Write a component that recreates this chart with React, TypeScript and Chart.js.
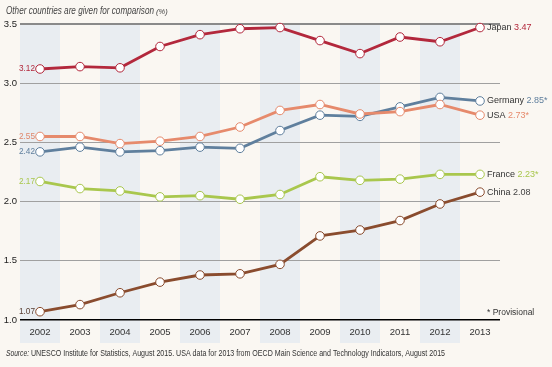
import React, { useEffect, useRef } from "react";
import { Chart, registerables } from "chart.js";

Chart.register(...registerables);

const years = ["2002", "2003", "2004", "2005", "2006", "2007", "2008", "2009", "2010", "2011", "2012", "2013"];
const japan = [3.12, 3.14, 3.13, 3.31, 3.41, 3.46, 3.47, 3.36, 3.25, 3.39, 3.35, 3.47];
const usa = [2.55, 2.55, 2.49, 2.51, 2.55, 2.63, 2.77, 2.82, 2.74, 2.76, 2.82, 2.73];
const germany = [2.42, 2.46, 2.42, 2.43, 2.46, 2.45, 2.6, 2.73, 2.72, 2.8, 2.88, 2.85];
const france = [2.17, 2.11, 2.09, 2.04, 2.05, 2.02, 2.06, 2.21, 2.18, 2.19, 2.23, 2.23];
const china = [1.07, 1.13, 1.23, 1.32, 1.38, 1.39, 1.47, 1.71, 1.76, 1.84, 1.98, 2.08];
const seriesNames = ["Japan", "USA", "Germany", "France", "China"];
const startLabels = ["3.12", "2.55", "2.42", "2.17", "1.07"];
const endLabels = ["3.47", "2.73*", "2.85*", "2.23*", "2.08"];
const yTicks = [1.0, 1.5, 2.0, 2.5, 3.0, 3.5];
const titleText = "Other countries are given for comparison";
const sourceText = "UNESCO Institute for Statistics, August 2015. USA data for 2013 from OECD Main Science and Technology Indicators, August 2015";

const colors = ["#b3283c", "#e68a6c", "#5f7f9d", "#a9c74d", "#8a4c2e"];
const startColors = ["#b3283c", "#e0866a", "#5f7f9d", "#a9c74d", "#5a4035"];
const endColors = ["#b3283c", "#e68a6c", "#5f7f9d", "#a9c74d", "#444444"];
const BG = "#faf7f2";
const BAND = "#e9edf1";
const FONT = "'Liberation Sans', Arial, sans-serif";

export default function App() {
  const ref = useRef<HTMLCanvasElement | null>(null);
  useEffect(() => {
    const canvas = ref.current;
    if (!canvas) return;
    const dataSets = [japan, usa, germany, france, china];

    const bgPlugin = {
      id: "bgBands",
      beforeDraw(chart: any) {
        const { ctx, chartArea, scales } = chart;
        const xs = scales.x;
        ctx.save();
        ctx.fillStyle = BG;
        ctx.fillRect(0, 0, chart.width, chart.height);
        const step = xs.getPixelForValue(1) - xs.getPixelForValue(0);
        ctx.fillStyle = BAND;
        for (let i = 0; i < years.length; i += 2) {
          const cx = xs.getPixelForValue(i);
          ctx.fillRect(cx - step / 2, chartArea.top, step, chartArea.bottom + 23 - chartArea.top);
        }
        ctx.restore();
      },
    };

    const textPlugin = {
      id: "texts",
      afterDatasetsDraw(chart: any) {
        const { ctx, scales } = chart;
        const xs = scales.x;
        const ys = scales.y;
        ctx.save();
        ctx.textBaseline = "middle";
        ctx.font = `9px ${FONT}`;
        ctx.textAlign = "right";
        dataSets.forEach((d, i) => {
          ctx.fillStyle = startColors[i];
          ctx.fillText(startLabels[i], xs.getPixelForValue(0) - 5, ys.getPixelForValue(d[0]), 16);
        });
        ctx.textAlign = "left";
        dataSets.forEach((d, i) => {
          const x = xs.getPixelForValue(years.length - 1) + 7;
          const y = ys.getPixelForValue(d[d.length - 1]);
          const name = seriesNames[i] + " ";
          ctx.fillStyle = "#333333";
          ctx.fillText(name, x, y);
          const w = ctx.measureText(name).width;
          ctx.fillStyle = endColors[i];
          ctx.fillText(endLabels[i], x + w, y);
        });
        ctx.fillStyle = "#333333";
        ctx.font = `8.5px ${FONT}`;
        ctx.fillText("* Provisional", 487, 313);
        ctx.textBaseline = "alphabetic";
        ctx.font = `italic 10px ${FONT}`;
        ctx.fillStyle = "#444444";
        ctx.fillText(titleText, 6, 14, 148);
        ctx.font = `italic 7.5px ${FONT}`;
        ctx.fillText("(%)", 156, 14);
        ctx.font = `italic 8.5px ${FONT}`;
        ctx.fillStyle = "#333333";
        ctx.fillText("Source:", 6, 356, 23);
        ctx.font = `8.5px ${FONT}`;
        ctx.fillText(sourceText, 31, 356, 414);
        ctx.restore();
      },
    };

    const chart = new Chart(canvas, {
      type: "line",
      data: {
        labels: years,
        datasets: dataSets.map((d, i) => ({
          label: seriesNames[i],
          data: d,
          borderColor: colors[i],
          borderWidth: 2.8,
          pointRadius: 4.3,
          pointBackgroundColor: "#ffffff",
          pointBorderColor: colors[i],
          pointBorderWidth: 1,
          tension: 0,
          clip: false,
          order: i,
        })),
      },
      options: {
        responsive: false,
        animation: false,
        layout: { padding: { left: 0, right: 52, top: 24, bottom: 22 } },
        plugins: { legend: { display: false }, tooltip: { enabled: false }, title: { display: false } },
        scales: {
          x: {
            type: "category",
            offset: true,
            grid: { display: false, drawTicks: false },
            border: { display: false },
            ticks: { color: "#333333", font: { family: FONT, size: 9.5 }, padding: 7, maxRotation: 0 },
            afterFit(scale: any) {
              scale.height = 25;
            },
          },
          y: {
            min: 1,
            max: 3.5,
            afterBuildTicks(scale: any) {
              scale.ticks = yTicks.map((v) => ({ value: v }));
            },
            grid: {
              drawTicks: false,
              color: (c: any) => (c.tick && c.tick.value === 1 ? "#000000" : c.tick && c.tick.value === 3.5 ? "#8a8a8a" : "#a0a0a0"),
              lineWidth: (c: any) => (c.tick && c.tick.value === 1 ? 1.5 : c.tick && c.tick.value === 3.5 ? 2 : 1),
            },
            border: { display: false },
            ticks: {
              color: "#222222",
              font: { family: FONT, size: 9.5 },
              padding: 3,
              callback: (v: any) => Number(v).toFixed(1),
            },
            afterFit(scale: any) {
              scale.width = 20;
            },
          },
        },
      },
      plugins: [bgPlugin, textPlugin],
    });
    return () => chart.destroy();
  }, []);

  return (
    <div style={{ position: "absolute", left: 0, top: 0, width: 552, height: 367, background: BG }}>
      <canvas ref={ref} width={552} height={367} style={{ display: "block" }} />
    </div>
  );
}
